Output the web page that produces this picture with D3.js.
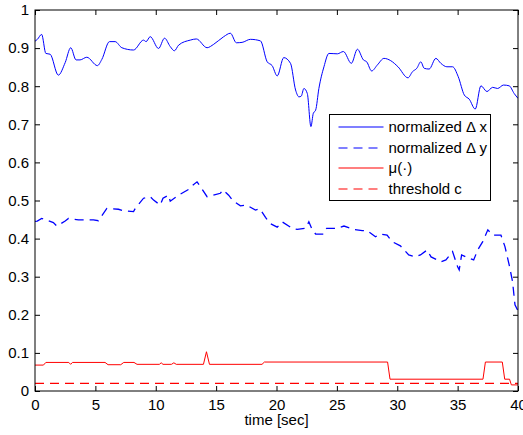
<!DOCTYPE html>
<html>
<head>
<meta charset="utf-8">
<script src="https://cdn.jsdelivr.net/npm/d3@7"></script>
<style>
  body { margin: 0; background: #fff; }
  svg text { font-family: "Liberation Sans", Arial, sans-serif; fill: #000; }
</style>
</head>
<body>
<svg id="chart" width="523" height="435"></svg>
<script>
// normalized delta x (solid blue)
var dxTime = [0, 0.2, 0.55, 0.9, 1.25, 1.93, 2.5, 2.96, 3.4, 3.73, 4.29, 5.17, 5.53, 6.17, 6.64, 7.19, 8.16, 8.99, 9.2, 9.54, 10.23, 10.73, 11.2, 11.54, 11.9, 12.86, 13.36, 14.25, 14.8, 15.63, 16.18, 16.68, 17.15, 17.84, 18.67, 19.23, 19.64, 20.06, 20.6, 21.16, 21.58, 21.86, 22.05, 22.27, 22.55, 22.85, 23.05, 23.24, 23.51, 23.93, 24.34, 25.04, 25.54, 26.2, 26.7, 27.2, 27.47, 27.88, 28.36, 28.9, 29.46, 30.06, 30.89, 31.26, 31.62, 31.95, 32.23, 32.64, 33.2, 33.61, 34.11, 34.58, 35.05, 35.55, 35.96, 36.46, 36.93, 37.43, 37.9, 38.31, 38.8, 39.27, 39.68, 40];
var dxValues = [0.918, 0.923, 0.936, 0.886, 0.884, 0.829, 0.862, 0.901, 0.869, 0.869, 0.876, 0.854, 0.870, 0.917, 0.917, 0.901, 0.895, 0.921, 0.917, 0.930, 0.899, 0.926, 0.904, 0.893, 0.908, 0.921, 0.924, 0.901, 0.910, 0.930, 0.939, 0.914, 0.915, 0.923, 0.919, 0.864, 0.854, 0.827, 0.875, 0.860, 0.790, 0.772, 0.774, 0.794, 0.781, 0.694, 0.729, 0.737, 0.794, 0.851, 0.886, 0.885, 0.891, 0.860, 0.897, 0.869, 0.864, 0.840, 0.856, 0.873, 0.867, 0.851, 0.822, 0.838, 0.847, 0.864, 0.847, 0.845, 0.873, 0.860, 0.851, 0.851, 0.825, 0.777, 0.766, 0.740, 0.801, 0.786, 0.797, 0.794, 0.803, 0.801, 0.781, 0.768];

// normalized delta y (dashed blue)
var dyTime = [0, 0.19, 0.55, 1.52, 1.8, 2.5, 2.77, 3.6, 4.84, 5.25, 5.95, 6.91, 7.33, 8.16, 8.3, 8.99, 9.54, 9.82, 10.37, 10.6, 11.06, 11.2, 11.89, 12.72, 12.92, 13.42, 13.75, 14.25, 14.66, 15.35, 15.57, 16.04, 16.4, 17.01, 17.51, 18.26, 18.62, 19.09, 19.45, 20.06, 20.47, 21.3, 21.72, 22.41, 22.68, 22.96, 23.24, 23.88, 24.15, 25.04, 25.59, 26.14, 26.4, 27.1, 27.5, 28.2, 28.6, 29.16, 29.57, 30.26, 30.95, 31.5, 31.92, 32.47, 32.8, 33.61, 34.03, 34.58, 35.0, 35.13, 35.33, 35.69, 36.33, 36.66, 37.08, 37.5, 37.9, 38.59, 38.92, 39.27, 39.55, 39.75, 40];
var dyValues = [0.445, 0.446, 0.453, 0.442, 0.433, 0.446, 0.453, 0.449, 0.449, 0.447, 0.479, 0.477, 0.473, 0.471, 0.479, 0.506, 0.510, 0.501, 0.488, 0.506, 0.514, 0.498, 0.514, 0.529, 0.536, 0.549, 0.534, 0.510, 0.513, 0.519, 0.528, 0.514, 0.499, 0.486, 0.488, 0.475, 0.478, 0.456, 0.440, 0.430, 0.444, 0.427, 0.424, 0.427, 0.444, 0.423, 0.412, 0.412, 0.427, 0.427, 0.433, 0.427, 0.424, 0.421, 0.421, 0.405, 0.412, 0.409, 0.392, 0.381, 0.357, 0.352, 0.357, 0.370, 0.352, 0.339, 0.344, 0.366, 0.326, 0.318, 0.357, 0.352, 0.344, 0.370, 0.392, 0.423, 0.409, 0.409, 0.379, 0.331, 0.287, 0.226, 0.21];

// mu(.) (solid red)
var muTime = [0, 0.7, 0.9, 2.8, 2.95, 3.1, 5.8, 6.05, 7.1, 7.35, 8.2, 8.45, 10.3, 10.45, 10.6, 11.3, 11.5, 11.7, 13.95, 14.2, 14.45, 18.8, 19.0, 29.2, 29.4, 37.1, 37.3, 38.7, 38.9, 39.3, 39.45, 40];
var muValues = [0.068, 0.068, 0.075, 0.075, 0.070, 0.075, 0.075, 0.069, 0.069, 0.075, 0.075, 0.070, 0.070, 0.074, 0.070, 0.070, 0.074, 0.070, 0.070, 0.103, 0.070, 0.070, 0.076, 0.076, 0.031, 0.031, 0.076, 0.076, 0.031, 0.031, 0.016, 0.016];

// threshold c (dashed red)
var cTime = [0, 40];
var cValues = [0.02, 0.02];

var xTicks = [0, 5, 10, 15, 20, 25, 30, 35, 40];
var yTicks = [0, 0.1, 0.2, 0.3, 0.4, 0.5, 0.6, 0.7, 0.8, 0.9, 1];
var legendLabels = ['normalized \u0394 x', 'normalized \u0394 y', '\u03bc(\u00b7)', 'threshold c'];

var margin = { left: 35, right: 5, top: 10, bottom: 44 };
var width = 523, height = 435;
var fontSize = 15;

var svg = d3.select('#chart');

var x = d3.scaleLinear().domain([0, 40]).range([margin.left, width - margin.right]);
var y = d3.scaleLinear().domain([0, 1]).range([height - margin.bottom, margin.top]);

svg.append('clipPath')
  .attr('id', 'plot-clip')
  .append('rect')
  .attr('x', x(0))
  .attr('y', y(1))
  .attr('width', x(40) - x(0))
  .attr('height', y(0) - y(1));

var series = [
  { t: dxTime, v: dxValues, color: '#0000ff', dash: null, curve: d3.curveMonotoneX },
  { t: dyTime, v: dyValues, color: '#0000ff', dash: '9,6', curve: d3.curveLinear },
  { t: muTime, v: muValues, color: '#ff0000', dash: null, curve: d3.curveLinear },
  { t: cTime, v: cValues, color: '#ff0000', dash: '9,6', curve: d3.curveLinear }
];

var plot = svg.append('g').attr('clip-path', 'url(#plot-clip)');

series.forEach(function(s) {
  var line = d3.line()
    .x(function(d, i) { return x(s.t[i]); })
    .y(function(d) { return y(d); })
    .curve(s.curve);
  plot.append('path')
    .attr('d', line(s.v))
    .attr('fill', 'none')
    .attr('stroke', s.color)
    .attr('stroke-width', s.dash ? 1.3 : 1)
    .attr('stroke-dasharray', s.dash);
});

// axes: ticks inside, mirrored on top/right
var tickLen = 5;
var bottomAxis = d3.axisBottom(x).tickValues(xTicks).tickSizeInner(-tickLen).tickSizeOuter(0).tickPadding(8);
var topAxis = d3.axisTop(x).tickValues(xTicks).tickSizeInner(-tickLen).tickSizeOuter(0).tickFormat('');
var leftAxis = d3.axisLeft(y).tickValues(yTicks).tickSizeInner(-tickLen).tickSizeOuter(0).tickPadding(6)
  .tickFormat(function(d) { return d === 0 || d === 1 ? String(d) : d3.format('.1f')(d); });
var rightAxis = d3.axisRight(y).tickValues(yTicks).tickSizeInner(-tickLen).tickSizeOuter(0).tickFormat('');

function styleAxis(g) {
  g.select('.domain').remove();
  g.selectAll('line').attr('stroke', '#000');
  g.selectAll('text').attr('font-size', fontSize).style('font-family', '"Liberation Sans", Arial, sans-serif');
}

svg.append('g').attr('transform', 'translate(0,' + y(0) + ')').call(bottomAxis).call(styleAxis);
svg.append('g').attr('transform', 'translate(0,' + y(1) + ')').call(topAxis).call(styleAxis);
svg.append('g').attr('transform', 'translate(' + x(0) + ',0)').call(leftAxis).call(styleAxis);
svg.append('g').attr('transform', 'translate(' + x(40) + ',0)').call(rightAxis).call(styleAxis);

svg.append('rect')
  .attr('x', x(0))
  .attr('y', y(1))
  .attr('width', x(40) - x(0))
  .attr('height', y(0) - y(1))
  .attr('fill', 'none')
  .attr('stroke', '#000')
  .attr('stroke-width', 1);

svg.append('text')
  .attr('x', (x(0) + x(40)) / 2)
  .attr('y', 425)
  .attr('text-anchor', 'middle')
  .attr('font-size', fontSize)
  .text('time [sec]');

// legend
var legendX = 329.5, legendY = 114.5, legendW = 161, legendH = 86;
var legend = svg.append('g').attr('class', 'legend');
legend.append('rect')
  .attr('x', legendX)
  .attr('y', legendY)
  .attr('width', legendW)
  .attr('height', legendH)
  .attr('fill', '#fff')
  .attr('stroke', '#000')
  .attr('stroke-width', 1);

var item = legend.selectAll('.item')
  .data(series)
  .enter()
  .append('g')
  .attr('class', 'item')
  .attr('transform', function(d, i) {
    return 'translate(' + legendX + ',' + Math.round(legendY + 12.5 + i * 20.6) + ')';
  });

item.append('line')
  .attr('x1', 9)
  .attr('x2', 54)
  .attr('y1', 0)
  .attr('y2', 0)
  .attr('stroke', function(d) { return d.color; })
  .attr('stroke-width', 1.2)
  .attr('stroke-dasharray', function(d) { return d.dash; });

item.append('text')
  .attr('x', 59)
  .attr('y', 5)
  .attr('font-size', fontSize)
  .text(function(d, i) { return legendLabels[i]; });
</script>
</body>
</html>
